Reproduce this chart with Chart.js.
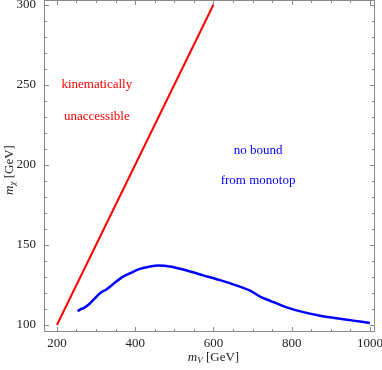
<!DOCTYPE html>
<html>
<head>
<meta charset="utf-8">
<script src="https://cdn.jsdelivr.net/npm/chart.js@4"></script>
<style>
  html, body { margin: 0; padding: 0; background: #fff; }
  #wrap { width: 382px; height: 370px; }
</style>
</head>
<body>
<div id="wrap"><canvas id="myChart"></canvas></div>
<script>
// kinematic limit line
var limitX = [200, 600];
var limitY = [100, 300];

// monotop bound curve
var boundX = [253, 260, 267, 280, 293, 310, 327, 344, 365, 387, 412, 438, 459, 489, 532, 574, 617, 660, 694, 719, 745, 787, 830, 873, 915, 958, 1000];
var boundY = [108.6, 109.8, 110.4, 112.5, 115.6, 119.8, 122.3, 125.6, 129.6, 132.3, 135, 136.5, 137.1, 136.5, 134, 131, 128, 124.6, 121.4, 117.7, 115.1, 111, 108, 105.8, 104.2, 102.7, 101.2];

var xTicks = [200, 400, 600, 800, 1000];
var yTicks = [100, 150, 200, 250, 300];

var serif = '"Liberation Serif", "DejaVu Serif", serif';

function toPoints(xs, ys) {
    return xs.map(function (v, i) { return { x: v, y: ys[i] }; });
}

// frame, inward ticks, labels and axis titles
var framePlugin = {
    id: 'frame',
    afterDraw: function (chart) {
        var ctx = chart.ctx;
        var a = chart.chartArea;
        var x = chart.scales.x;
        var y = chart.scales.y;
        ctx.save();
        ctx.strokeStyle = '#8a8a8a';
        ctx.lineWidth = 1;
        ctx.strokeRect(a.left + 0.5, a.top + 0.5, a.right - a.left - 1, a.bottom - a.top - 1);

        ctx.beginPath();
        for (var v = 200; v <= 1000; v += 50) {
            var px = Math.round(x.getPixelForValue(v)) + 0.5;
            var len = (v % 200 === 0) ? 5 : 3;
            ctx.moveTo(px, a.bottom); ctx.lineTo(px, a.bottom - len);
            ctx.moveTo(px, a.top); ctx.lineTo(px, a.top + len);
        }
        for (var w = 100; w <= 300; w += 10) {
            var py = Math.round(y.getPixelForValue(w)) + 0.5;
            var l2 = (w % 50 === 0) ? 5 : 3;
            ctx.moveTo(a.left, py); ctx.lineTo(a.left + l2, py);
            ctx.moveTo(a.right, py); ctx.lineTo(a.right - l2, py);
        }
        ctx.stroke();

        // annotations
        ctx.font = '13px ' + serif;
        ctx.textAlign = 'center';
        ctx.textBaseline = 'middle';
        ctx.fillStyle = '#ff0000';
        ctx.fillText('kinematically', x.getPixelForValue(302), y.getPixelForValue(250));
        ctx.fillText('unaccessible', x.getPixelForValue(302), y.getPixelForValue(230));
        ctx.fillStyle = '#0000ff';
        ctx.fillText('no bound', x.getPixelForValue(714), y.getPixelForValue(209));
        ctx.fillText('from monotop', x.getPixelForValue(714), y.getPixelForValue(190));

        // axis titles
        ctx.fillStyle = '#222';
        drawTitle(ctx, 'V', (a.left + a.right) / 2 + 4, 358);
        ctx.translate(10, (a.top + a.bottom) / 2 + 4);
        ctx.rotate(-Math.PI / 2);
        drawTitle(ctx, '\u03C7', 0, 0);
        ctx.restore();
    }
};

function drawTitle(ctx, sub, cx, cy) {
    var f1 = 'italic 13px ' + serif;
    var f2 = 'italic 9px ' + serif;
    var f3 = '13px ' + serif;
    var rest = ' [GeV]';
    ctx.font = f1; var w1 = ctx.measureText('m').width;
    ctx.font = f2; var w2 = ctx.measureText(sub).width;
    ctx.font = f3; var w3 = ctx.measureText(rest).width;
    var sx = cx - (w1 + w2 + w3) / 2;
    ctx.textAlign = 'left';
    ctx.textBaseline = 'middle';
    ctx.font = f1; ctx.fillText('m', sx, cy);
    ctx.font = f2; ctx.fillText(sub, sx + w1, cy + 3);
    ctx.font = f3; ctx.fillText(rest, sx + w1 + w2, cy);
}

var ctx = document.getElementById('myChart').getContext('2d');

var myChart = new Chart(ctx, {
    type: 'scatter',
    data: {
        datasets: [{
            data: toPoints(limitX, limitY),
            showLine: true,
            borderColor: '#ff0000',
            borderWidth: 2,
            pointRadius: 0
        }, {
            data: toPoints(boundX, boundY),
            showLine: true,
            borderColor: '#0000ff',
            borderWidth: 2.5,
            pointRadius: 0,
            tension: 0.25
        }]
    },
    options: {
        responsive: true,
        maintainAspectRatio: false,
        animation: false,
        layout: { padding: { top: 0, right: 7, left: 0, bottom: 0 } },
        plugins: {
            legend: { display: false },
            tooltip: { enabled: false }
        },
        scales: {
            x: {
                type: 'linear',
                min: 167,
                max: 1013,
                grid: { display: false, drawTicks: false },
                border: { display: false },
                afterBuildTicks: function (s) { s.ticks = xTicks.map(function (v) { return { value: v }; }); },
                afterFit: function (s) {
                    s.height = 38;
                    s.paddingLeft = 0;
                    s.paddingRight = 0;
                },
                ticks: {
                    padding: 4,
                    maxRotation: 0,
                    color: '#222',
                    font: { family: serif, size: 13 },
                    callback: function (v) { return String(v); }
                }
            },
            y: {
                type: 'linear',
                min: 95.6,
                max: 303,
                grid: { display: false, drawTicks: false },
                border: { display: false },
                afterBuildTicks: function (s) { s.ticks = yTicks.map(function (v) { return { value: v }; }); },
                afterFit: function (s) {
                    s.width = 44;
                    s.paddingTop = 0;
                    s.paddingBottom = 0;
                },
                ticks: {
                    padding: 8,
                    color: '#222',
                    font: { family: serif, size: 13 },
                    callback: function (v) { return String(v); }
                }
            }
        }
    },
    plugins: [framePlugin]
});
</script>
</body>
</html>
